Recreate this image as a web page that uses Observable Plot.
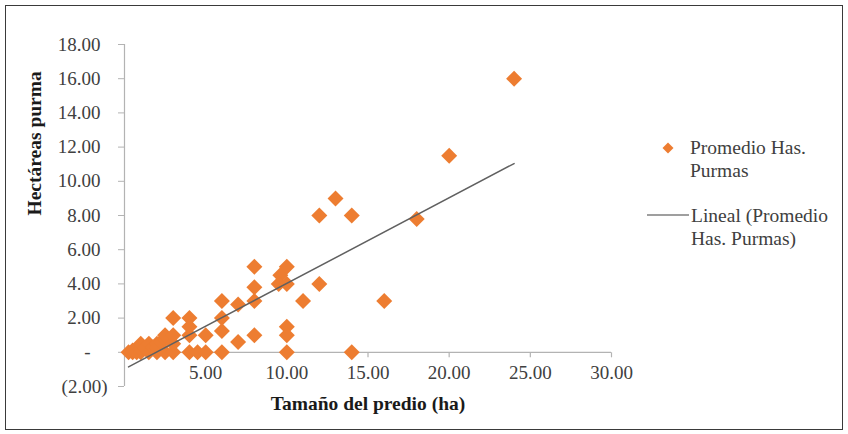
<!DOCTYPE html>
<html>
<head>
<meta charset="utf-8">
<script src="https://cdn.jsdelivr.net/npm/d3@7"></script>
<script src="https://cdn.jsdelivr.net/npm/@observablehq/plot@0.6"></script>
<style>
  body { margin: 0; background: #fff; }
  #wrap { position: relative; width: 848px; height: 434px; overflow: hidden; background: #fff;
          font-family: "Liberation Serif", "Times New Roman", serif; }
  #chart { position: absolute; left: 0; top: 0; }
  #border { position: absolute; left: 5px; top: 5px; width: 838px; height: 425px;
            border: 1.5px solid #3a3a3a; box-sizing: border-box; pointer-events: none; }
  .leg { position: absolute; color: #404040; font-size: 19.5px; line-height: 23px; white-space: nowrap;
         font-family: "Liberation Serif", "Times New Roman", serif; }
  .legsym { position: absolute; }
</style>
</head>
<body>
<div id="wrap">
  <div id="chart"></div>
  <div id="border"></div>
</div>
<script>
// ---- data ----
const sizeHa  = [0.25, 0.5, 0.5, 0.75, 1, 1, 1, 1.25, 1.5, 1.5, 1.75, 2, 2, 2, 2.25, 2.5, 2.5, 2.5, 3, 3, 3, 3,
                 4, 4, 4, 4, 4.5, 5, 5, 6, 6, 6, 6, 7, 7, 8, 8, 8, 8, 9.6, 9.5, 10, 10, 10, 10, 10,
                 11, 12, 12, 13, 14, 14, 16, 18, 20, 24];
const purmaHa = [0, 0, 0.1, 0, 0, 0.2, 0.5, 0.25, 0, 0.5, 0.3, 0, 0.5, 0.25, 0.6, 0, 0.75, 1, 0, 0.5, 1, 2,
                 2, 1.5, 1, 0, 0, 0, 1, 0, 1.25, 2, 3, 0.6, 2.8, 1, 3, 3.8, 5, 4.5, 4, 4, 5, 1.5, 1, 0,
                 3, 4, 8, 9, 8, 0, 3, 7.8, 11.5, 16];
const xTicks = [5, 10, 15, 20, 25, 30];
const yTicksPositive = [2, 4, 6, 8, 10, 12, 14, 16, 18];
const yTickZero = [0];
const yTickNegative = [-2];
const xDomain = [0, 30];
const yDomain = [-2, 18];
const xTitle = "Tamaño del predio (ha)";
const yTitle = "Hectáreas purma";
const seriesLegend = ["Promedio Has.", "Purmas"];
const trendLegend = ["Lineal (Promedio", "Has. Purmas)"];

// ---- build ----
const table = sizeHa.map((x, i) => ({x, y: purmaHa[i]}));
const fmt = d => d === 0 ? "-" : d < 0 ? `(${Math.abs(d).toFixed(2)})` : d.toFixed(2);
const orange = "#ED7D31";
const axisGray = "#b3b3b3";
const labelColor = "#404040";
const serif = "'Liberation Serif', 'Times New Roman', serif";
const downTick = { draw(ctx) { ctx.moveTo(0, 0); ctx.lineTo(0, 5); } };

const chart = Plot.plot({
  width: 848,
  height: 434,
  marginLeft: 124,
  marginRight: 237,
  marginTop: 44,
  marginBottom: 48,
  style: { fontFamily: serif, fontSize: "19px", background: "transparent" },
  x: { domain: xDomain, axis: null },
  y: { domain: yDomain, axis: null },
  marks: [
    Plot.ruleX([0], { stroke: axisGray, strokeWidth: 1.2 }),
    Plot.ruleY([0], { stroke: axisGray, strokeWidth: 1.2 }),
    Plot.axisY({ ticks: yTicksPositive, tickFormat: fmt, tickSize: 6, tickPadding: 18, stroke: axisGray, fill: labelColor, label: null, fontSize: 19, fontFamily: serif }),
    Plot.axisY({ ticks: yTickZero, tickFormat: fmt, tickSize: 6, tickPadding: 28, stroke: axisGray, fill: labelColor, label: null, fontSize: 19, fontFamily: serif }),
    Plot.axisY({ ticks: yTickNegative, tickFormat: fmt, tickSize: 6, tickPadding: 11, stroke: axisGray, fill: labelColor, label: null, fontSize: 19, fontFamily: serif }),
    Plot.dot(xTicks, { x: d => d, y: () => 0, symbol: downTick, fill: "none", stroke: axisGray, strokeWidth: 1.2 }),
    Plot.text(xTicks, { x: d => d, frameAnchor: "bottom", dy: -8, text: fmt, fill: labelColor, fontSize: 19, fontFamily: serif }),
    Plot.dot(table, { x: "x", y: "y", symbol: "diamond2", r: 7.2, fill: orange, stroke: "none" }),
    Plot.linearRegressionY(table, { x: "x", y: "y", stroke: "#606060", strokeWidth: 1.5, ci: 0 }),
    Plot.text([yTitle], { text: d => d, frameAnchor: "left", dx: -90, rotate: -90, fontWeight: "bold", fontSize: 19.5, fill: "#1a1a1a", fontFamily: serif }),
    Plot.text([xTitle], { text: d => d, frameAnchor: "bottom", dy: 23, fontWeight: "bold", fontSize: 19.5, fill: "#1a1a1a", fontFamily: serif })
  ]
});
document.getElementById("chart").appendChild(chart);

// ---- legend ----
const wrap = document.getElementById("wrap");
function addText(lines, left, top) {
  const d = document.createElement("div");
  d.className = "leg";
  d.style.left = left + "px";
  d.style.top = top + "px";
  lines.forEach((t, i) => { if (i) d.appendChild(document.createElement("br")); d.appendChild(document.createTextNode(t)); });
  wrap.appendChild(d);
}
const ns = "http://www.w3.org/2000/svg";
function addSvg(left, top, w, h, inner) {
  const s = document.createElementNS(ns, "svg");
  s.setAttribute("width", w); s.setAttribute("height", h);
  s.setAttribute("class", "legsym");
  s.style.left = left + "px"; s.style.top = top + "px";
  s.innerHTML = inner;
  wrap.appendChild(s);
}
addSvg(662, 142, 12, 12, `<path d="M6,0.5L11.5,6L6,11.5L0.5,6Z" fill="${orange}"/>`);
addText(seriesLegend, 690, 136);
addSvg(646, 210, 44, 10, `<line x1="1" y1="5" x2="43" y2="5" stroke="#7f7f7f" stroke-width="1.5"/>`);
addText(trendLegend, 691, 204);
</script>
</body>
</html>
